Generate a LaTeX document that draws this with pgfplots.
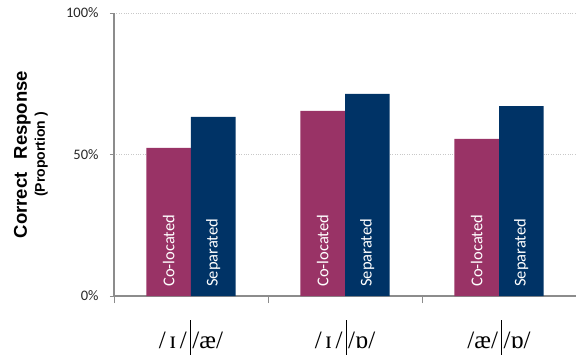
\documentclass[border=0pt]{standalone}
\usepackage{pgfplots}
\pgfplotsset{compat=1.18}
\usepackage{pgfplotstable}
\usepackage{fontspec}
\setmainfont{Carlito}
\newfontfamily\arialfont{Liberation Sans}
\newfontfamily\ipafont{Liberation Serif}
\definecolor{coloc}{RGB}{153,51,102}
\definecolor{sep}{RGB}{0,51,102}
\definecolor{axgray}{RGB}{140,140,140}
\definecolor{gridgray}{RGB}{200,200,200}
\pgfplotstableread{
cat coloc sep
0 52.3 63.3
1 65.4 71.4
2 55.5 67.1
}\data
\newcommand{\sepbar}{\hspace{3pt}\rule[-7pt]{0.6pt}{36pt}\hspace{2pt}}
\begin{document}
\begin{tikzpicture}
\path[use as bounding box] (0,0) rectangle (576pt,354pt);
\begin{axis}[
  at={(114pt,58pt)}, anchor=south west,
  scale only axis, width=462pt, height=283pt,
  xmin=-0.5, xmax=2.5, ymin=0, ymax=100,
  ybar=0pt, bar width=0.289,
  axis x line*=bottom, axis y line*=left,
  axis line style={draw=axgray, line width=1.6pt, -},
  tick align=outside,
  xtick={0,1,2},
  xticklabels={{\ipafont /\hspace{3.5pt}ɪ\hspace{3.5pt}/\sepbar/æ/},{\ipafont /\hspace{3.5pt}ɪ\hspace{3.5pt}/\sepbar/ɒ/},{\ipafont /æ/\sepbar/ɒ/}},
  major x tick style={draw=none},
  minor xtick={-0.5,0.5,1.5,2.5},
  minor x tick style={draw=axgray, line width=0.8pt},
  minor tick length=7pt,
  xticklabel style={font=\fontsize{25}{25}\selectfont, yshift=-16pt},
  ytick={0,50,100},
  yticklabels={0\%,50\%,100\%},
  major y tick style={draw=axgray, line width=0.8pt},
  major tick length=4pt,
  yticklabel style={font=\fontsize{14.5}{14.5}\selectfont, text=black!85, xshift=-8pt},
  ymajorgrids,
  grid style={dotted, draw=gridgray, line width=0.8pt},
  every axis y label/.style={at={(axis description cs:-0.180,0.5)}, rotate=90, anchor=center, align=center},
  ylabel={{\arialfont\bfseries\fontsize{18.5}{20}\selectfont Correct\hspace{13pt}Response}\\[3pt]{\arialfont\bfseries\fontsize{14}{14}\selectfont (Proportion )}},
  /pgf/number format/assume math mode=true,
  clip=false,
]
\addplot[fill=coloc, draw=none, bar shift=-0.1445] table[x=cat, y=coloc] {\data};
\addplot[fill=sep, draw=none, bar shift=0.1445] table[x=cat, y=sep] {\data};
\foreach \i in {0,1,2} {
  \edef\temp{\noexpand\node[rotate=90, anchor=west, inner sep=0pt, text=white, font=\noexpand\fontsize{16.5}{16.5}\noexpand\selectfont] at (axis cs:\i-0.1445,3.2) {Co-located};
  \noexpand\node[rotate=90, anchor=west, inner sep=0pt, text=white, font=\noexpand\fontsize{16.5}{16.5}\noexpand\selectfont] at (axis cs:\i+0.1445,3.2) {Separated};}
  \temp
}
\end{axis}
\end{tikzpicture}
\end{document}
